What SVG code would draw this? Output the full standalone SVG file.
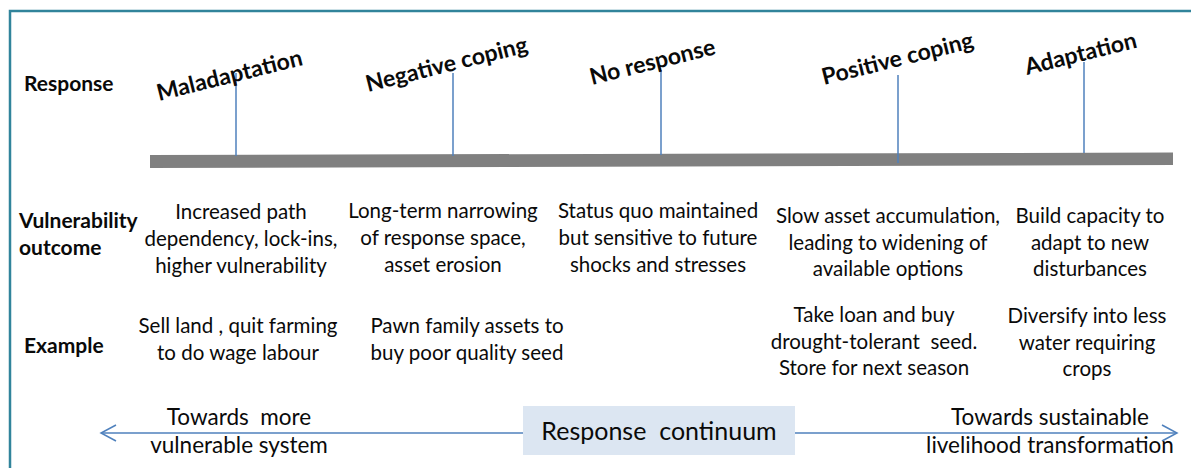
<svg xmlns="http://www.w3.org/2000/svg" width="1191" height="468" viewBox="0 0 1191 468">
<defs>
<style>
.t{font-family:Lato,"Liberation Sans",sans-serif;font-size:20.5px;fill:#0a0a0a;text-anchor:middle;white-space:pre}
.big{font-size:22.5px}
.b{font-family:Lato,"Liberation Sans",sans-serif;font-size:21px;font-weight:bold;fill:#0a0a0a}
.r{font-family:Lato,"Liberation Sans",sans-serif;font-size:23px;font-weight:bold;fill:#0a0a0a}
.tick{stroke:#4F81BD;stroke-width:1.5}
.conn{stroke:#4F81BD;stroke-width:1.5;fill:none}
</style>
<marker id="ah" viewBox="0 0 20 20" refX="18" refY="10" markerWidth="20" markerHeight="20" markerUnits="userSpaceOnUse" orient="auto-start-reverse">
<path d="M3,2 L18,10 L3,18" fill="none" stroke="#4F81BD" stroke-width="1.5"/>
</marker>
</defs>
<rect width="1191" height="468" fill="#fff"/>
<g id="frame">
<path d="M10,468 V11 H1191" fill="none" stroke="#31849B" stroke-width="2.5"/>
</g>
<g id="row-labels">
<text class="b" x="24" y="91">Response</text>
<text class="b" x="19" y="228">Vulnerability</text>
<text class="b" x="19" y="255">outcome</text>
<text class="b" x="24" y="353">Example</text>
</g>
<g id="axis">
<polygon points="150,155 1173,152.5 1173,165 150,168" fill="#808080"/>
</g>
<g id="connectors">
<line class="tick" x1="236" y1="73" x2="236" y2="156"/>
<line class="tick" x1="453" y1="73" x2="453" y2="156"/>
<line class="tick" x1="661" y1="70" x2="661" y2="155"/>
<line class="tick" x1="898" y1="75" x2="898" y2="163"/>
<line class="tick" x1="1084" y1="62" x2="1084" y2="153"/>
<line class="conn" x1="101" y1="433" x2="1177" y2="433" marker-start="url(#ah)" marker-end="url(#ah)"/>
</g>
<g id="maladaptation">
<text class="r" transform="translate(159,101) rotate(-14)">Maladaptation</text>
<text class="t" x="241" y="219">Increased path</text>
<text class="t" x="241" y="246">dependency, lock-ins,</text>
<text class="t" x="241" y="273">higher vulnerability</text>
<text class="t" x="238" y="333">Sell land , quit farming</text>
<text class="t" x="238" y="360">to do wage labour</text>
</g>
<g id="negative-coping">
<text class="r" transform="translate(368,92) rotate(-14)">Negative coping</text>
<text class="t" x="443" y="218">Long-term narrowing</text>
<text class="t" x="443" y="245">of response space,</text>
<text class="t" x="443" y="272">asset erosion</text>
<text class="t" x="467" y="333">Pawn family assets to</text>
<text class="t" x="467" y="360">buy poor quality seed</text>
</g>
<g id="no-response">
<text class="r" transform="translate(592,85) rotate(-14)">No response</text>
<text class="t" x="658" y="218">Status quo maintained</text>
<text class="t" x="658" y="245">but sensitive to future</text>
<text class="t" x="658" y="272">shocks and stresses</text>
</g>
<g id="positive-coping">
<text class="r" transform="translate(824,85) rotate(-14)">Positive coping</text>
<text class="t" x="888" y="223">Slow asset accumulation,</text>
<text class="t" x="888" y="250">leading to widening of</text>
<text class="t" x="888" y="276">available options</text>
<text class="t" x="874" y="322">Take loan and buy</text>
<text class="t" x="874" y="349">drought-tolerant  seed.</text>
<text class="t" x="874" y="375">Store for next season</text>
</g>
<g id="adaptation">
<text class="r" transform="translate(1027,75) rotate(-14)">Adaptation</text>
<text class="t" x="1090" y="223">Build capacity to</text>
<text class="t" x="1090" y="250">adapt to new</text>
<text class="t" x="1090" y="276">disturbances</text>
<text class="t" x="1087" y="323">Diversify into less</text>
<text class="t" x="1087" y="350">water requiring</text>
<text class="t" x="1087" y="376">crops</text>
</g>
<g id="continuum">
<rect x="523" y="406" width="272" height="49" fill="#DCE6F2"/>
<text class="t" x="659" y="440" style="font-size:25px">Response  continuum</text>
<text class="t big" x="239" y="425">Towards  more</text>
<text class="t big" x="239" y="453">vulnerable system</text>
<text class="t big" x="1050" y="425">Towards sustainable</text>
<text class="t big" x="1050" y="453">livelihood transformation</text>
</g>
</svg>
